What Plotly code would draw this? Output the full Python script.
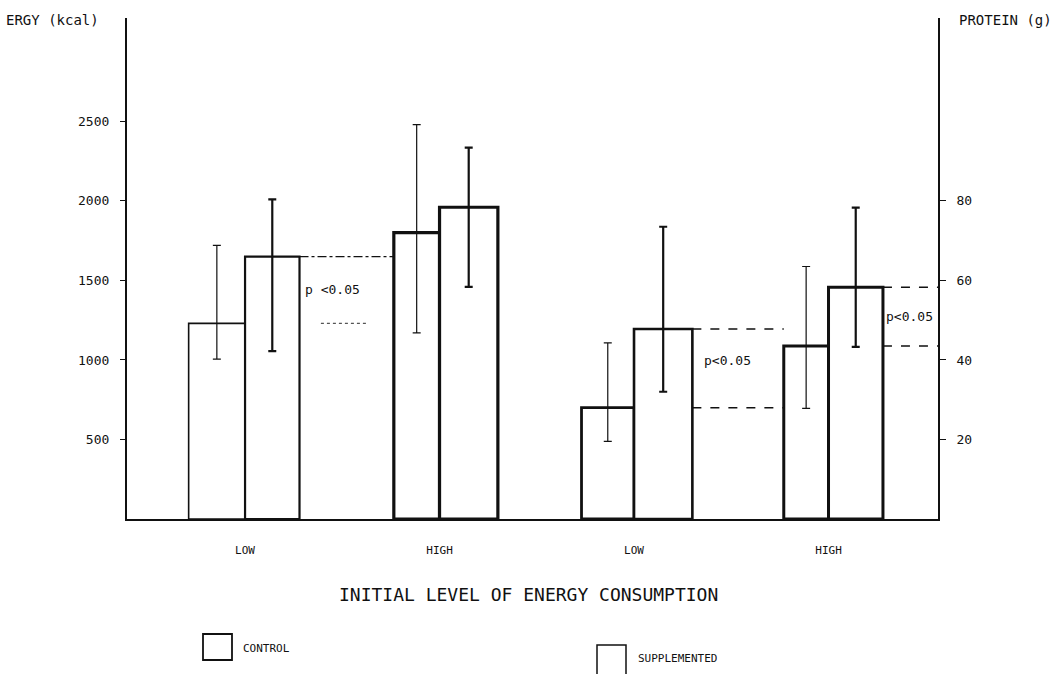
import plotly.graph_objects as go

# ---------------- data ----------------
groups = ["E-LOW", "E-HIGH", "P-LOW", "P-HIGH"]
group_labels = ["LOW", "HIGH", "LOW", "HIGH"]

energy_groups = ["E-LOW", "E-HIGH"]
protein_groups = ["P-LOW", "P-HIGH"]

energy_control = [1230, 1800]
energy_control_top = [1720, 2480]
energy_control_bottom = [1005, 1170]

energy_supp = [1650, 1960]
energy_supp_top = [2010, 2335]
energy_supp_bottom = [1055, 1460]

protein_control = [28.0, 43.5]
protein_control_top = [44.3, 63.5]
protein_control_bottom = [19.5, 27.8]

protein_supp = [47.8, 58.3]
protein_supp_top = [73.5, 78.3]
protein_supp_bottom = [32.0, 43.3]

energy_ticks = [500, 1000, 1500, 2000, 2500]
protein_ticks = [20, 40, 60, 80]

# ---------------- styling ----------------
INK = "#111111"
FONT = "DejaVu Sans Mono"
W, H = 1058, 674
L, R, T, B = 127, 120, 18, 155
PW, PH = W - L - R, H - T - B
XR = [-0.607, 3.563]

ctrl_w_e, ctrl_w_p = [0.29, 0.235], [0.27, 0.23]
supp_w_e, supp_w_p = [0.28, 0.30], [0.30, 0.28]
lw_ctrl_e, lw_supp_e = [1.6, 3.2], [2.2, 3.2]
lw_ctrl_p, lw_supp_p = [2.8, 3.0], [2.6, 3.0]


def err(mean, top, bottom):
    return dict(type="data", symmetric=False,
                array=[t - m for t, m in zip(top, mean)],
                arrayminus=[m - b for m, b in zip(mean, bottom)],
                color=INK, width=4)


def bar(x, y, w, off, lw, yaxis, e, th):
    e = dict(e, thickness=th)
    return go.Bar(x=x, y=y, width=w, offset=off, yaxis=yaxis,
                  marker=dict(color="white", line=dict(color=INK, width=lw)),
                  error_y=e, showlegend=False, hoverinfo="skip")


fig = go.Figure()
fig.add_trace(bar(energy_groups, energy_control, ctrl_w_e, [-w for w in ctrl_w_e], lw_ctrl_e, "y",
                  err(energy_control, energy_control_top, energy_control_bottom), 1.2))
fig.add_trace(bar(energy_groups, energy_supp, supp_w_e, [0, 0], lw_supp_e, "y",
                  err(energy_supp, energy_supp_top, energy_supp_bottom), 2.2))
fig.add_trace(bar(protein_groups, protein_control, ctrl_w_p, [-w for w in ctrl_w_p], lw_ctrl_p, "y2",
                  err(protein_control, protein_control_top, protein_control_bottom), 1.2))
fig.add_trace(bar(protein_groups, protein_supp, supp_w_p, [0, 0], lw_supp_p, "y2",
                  err(protein_supp, protein_supp_top, protein_supp_bottom), 2.2))

# significance guide lines (derived from the data values and bar edges)
shapes = []
# group 1 (energy LOW)
shapes.append(dict(type="line", xref="x", yref="y",
                   x0=0 + supp_w_e[0], x1=1 - ctrl_w_e[1],
                   y0=energy_supp[0], y1=energy_supp[0],
                   line=dict(color=INK, width=1.3, dash="dashdot")))
shapes.append(dict(type="line", xref="x", yref="y",
                   x0=0 + supp_w_e[0] + 0.11, x1=1 - ctrl_w_e[1] - 0.13,
                   y0=energy_control[0], y1=energy_control[0],
                   line=dict(color="#555555", width=1.2, dash="dot")))
# group 3 (protein LOW)
for v in (protein_supp[0], protein_control[0]):
    shapes.append(dict(type="line", xref="x", yref="y2",
                       x0=2 + supp_w_p[0], x1=3 - ctrl_w_p[1], y0=v, y1=v,
                       line=dict(color=INK, width=1.5, dash="dash")))
# group 4 (protein HIGH)
for v in (protein_supp[1], protein_control[1]):
    shapes.append(dict(type="line", xref="x", yref="y2",
                       x0=3 + supp_w_p[1], x1=XR[1], y0=v, y1=v,
                       line=dict(color=INK, width=1.5, dash="dash")))


def px(xp):
    return (xp - L) / PW


def py(yp):
    return (H - B - yp) / PH


# legend boxes
shapes.append(dict(type="rect", xref="paper", yref="paper",
                   x0=px(203), x1=px(232), y0=py(634), y1=py(660),
                   line=dict(color=INK, width=1.8)))
shapes.append(dict(type="path", xref="paper", yref="paper",
                   path=f"M {px(597)},{py(674)} L {px(597)},{py(645)} L {px(626)},{py(645)} L {px(626)},{py(674)}",
                   line=dict(color=INK, width=1.5)))

annotations = [
    dict(x=0 + supp_w_e[0], y=(energy_supp[0] + energy_control[0]) / 2, xref="x", yref="y",
         text="p <0.05", showarrow=False, xanchor="left", xshift=3,
         font=dict(size=13, color=INK, family=FONT)),
    dict(x=2 + supp_w_p[0], y=(protein_supp[0] + protein_control[0]) / 2 + 2, xref="x", yref="y2",
         text="p<0.05", showarrow=False, xanchor="left", xshift=10,
         font=dict(size=13, color=INK, family=FONT)),
    dict(x=3 + supp_w_p[1], y=(protein_supp[1] + protein_control[1]) / 2, xref="x", yref="y2",
         text="p<0.05", showarrow=False, xanchor="left", xshift=1,
         font=dict(size=13, color=INK, family=FONT)),
    dict(x=px(4), y=py(20), xref="paper", yref="paper", text="ERGY (kcal)",
         showarrow=False, xanchor="left", yanchor="middle",
         font=dict(size=14, color=INK, family=FONT)),
    dict(x=px(957), y=py(20), xref="paper", yref="paper", text="PROTEIN (g)",
         showarrow=False, xanchor="left", yanchor="middle",
         font=dict(size=14, color=INK, family=FONT)),
    dict(x=px(528), y=py(594), xref="paper", yref="paper",
         text="INITIAL LEVEL OF ENERGY CONSUMPTION",
         showarrow=False, xanchor="center", yanchor="middle",
         font=dict(size=18, color=INK, family=FONT)),
    dict(x=px(241), y=py(648), xref="paper", yref="paper", text="CONTROL",
         showarrow=False, xanchor="left", yanchor="middle",
         font=dict(size=11, color=INK, family=FONT)),
    dict(x=px(636), y=py(658), xref="paper", yref="paper", text="SUPPLEMENTED",
         showarrow=False, xanchor="left", yanchor="middle",
         font=dict(size=11, color=INK, family=FONT)),
]

fig.update_layout(
    width=W, height=H,
    margin=dict(l=L, r=R, t=T, b=B, pad=0),
    paper_bgcolor="white", plot_bgcolor="white",
    barmode="overlay",
    font=dict(family=FONT, color=INK),
    shapes=shapes, annotations=annotations,
    xaxis=dict(type="category", categoryorder="array", categoryarray=groups,
               range=XR, tickvals=groups, ticktext=group_labels,
               showline=True, linecolor=INK, linewidth=1.6, ticks="",
               showgrid=False, zeroline=False, ticklabelstandoff=20,
               tickfont=dict(size=11, family=FONT, color=INK), automargin=False),
    yaxis=dict(range=[0, 3150], tickvals=energy_ticks, showline=True,
               linecolor=INK, linewidth=2.2, ticks="outside", ticklen=5,
               tickcolor=INK, tickwidth=1.2, showgrid=False, zeroline=False,
               ticklabelstandoff=8,
               tickfont=dict(size=13, family=FONT, color=INK), automargin=False),
    yaxis2=dict(range=[0, 126], tickvals=protein_ticks, overlaying="y", side="right",
                showline=True, linecolor=INK, linewidth=1.8, ticks="outside",
                ticklen=6, tickcolor=INK, tickwidth=1.2, showgrid=False,
                zeroline=False, ticklabelstandoff=8,
                tickfont=dict(size=13, family=FONT, color=INK), automargin=False),
)

fig.write_html("out.html")
